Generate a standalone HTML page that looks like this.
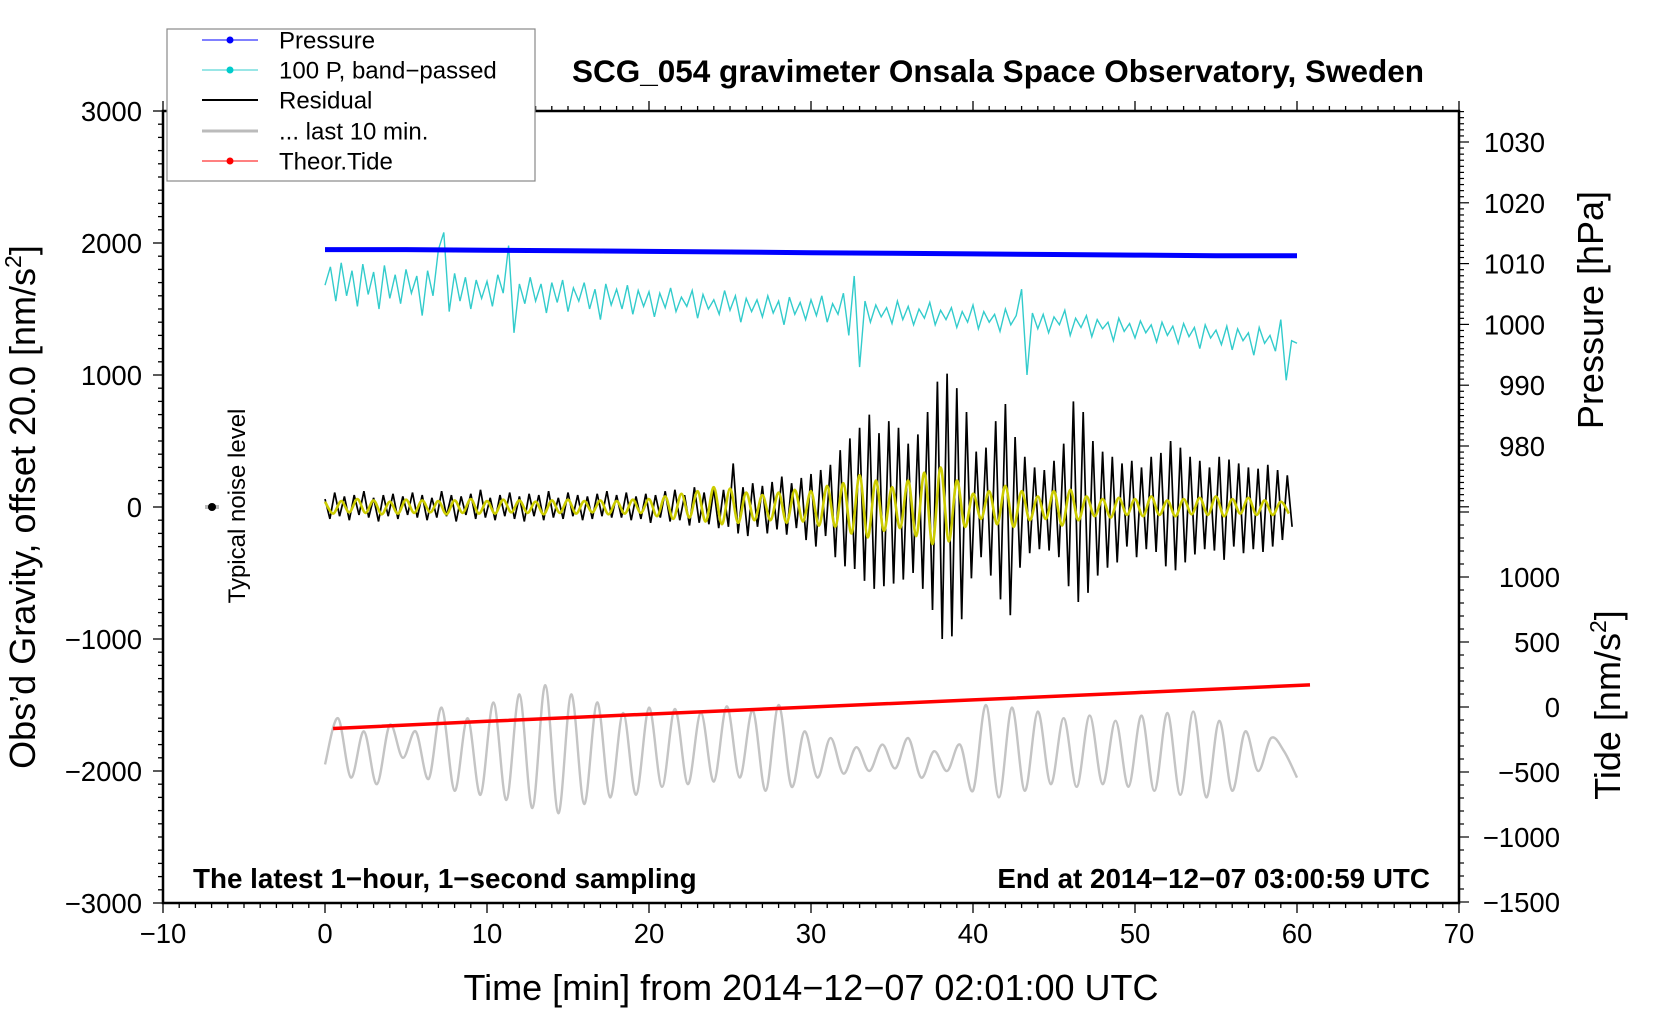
<!DOCTYPE html>
<html><head><meta charset="utf-8">
<style>
html,body{margin:0;padding:0;background:#fff;}
svg{display:block;font-family:"Liberation Sans",sans-serif;}
</style></head>
<body>
<svg id="chart" width="1660" height="1020" viewBox="0 0 1660 1020" xmlns="http://www.w3.org/2000/svg">
<rect x="0" y="0" width="1660" height="1020" fill="#fff"/>
<g id="marks"></g>
<g id="axes"></g>
<text x="998" y="82" font-size="31.5" font-weight="bold" text-anchor="middle">SCG_054 gravimeter Onsala Space Observatory, Sweden</text>
<text x="193" y="888" font-size="27.8" font-weight="bold">The latest 1−hour, 1−second sampling</text>
<text x="1430" y="888" font-size="27.8" font-weight="bold" text-anchor="end">End at 2014−12−07 03:00:59 UTC</text>
<text transform="translate(245,506) rotate(-90)" font-size="24" text-anchor="middle">Typical noise level</text>
<text x="811" y="1000" font-size="36" text-anchor="middle">Time [min] from 2014−12−07 02:01:00 UTC</text>
<text transform="translate(35,507) rotate(-90)" font-size="36" text-anchor="middle">Obs’d Gravity, offset 20.0 [nm/s<tspan font-size="23" dy="-14">2</tspan><tspan dy="14">]</tspan></text>
<text transform="translate(1603,310) rotate(-90)" font-size="36" text-anchor="middle">Pressure [hPa]</text>
<text transform="translate(1620,705) rotate(-90)" font-size="36" text-anchor="middle">Tide [nm/s<tspan font-size="23" dy="-14">2</tspan><tspan dy="14">]</tspan></text>
<g>
<rect x="167" y="29" width="368" height="152" fill="#fff" stroke="#888" stroke-width="1.2"/>
<g><line x1="202" y1="40" x2="258" y2="40" stroke="#0000ff" stroke-width="1"/><circle cx="230" cy="40" r="3.5" fill="#0000ff"/><text x="279" y="48.5" font-size="24">Pressure</text></g>
<g><line x1="202" y1="70" x2="258" y2="70" stroke="#33cccc" stroke-width="1"/><circle cx="230" cy="70" r="3.5" fill="#00cccc"/><text x="279" y="78.5" font-size="24">100 P, band−passed</text></g>
<g><line x1="202" y1="100" x2="258" y2="100" stroke="#000" stroke-width="2"/><text x="279" y="108.5" font-size="24">Residual</text></g>
<g><line x1="202" y1="131" x2="258" y2="131" stroke="#bbb" stroke-width="3"/><text x="279" y="139.5" font-size="24">... last 10 min.</text></g>
<g><line x1="202" y1="161" x2="258" y2="161" stroke="#ff0000" stroke-width="1"/><circle cx="230" cy="161" r="3.5" fill="#ff0000"/><text x="279" y="169.5" font-size="24">Theor.Tide</text></g>
</g>
</svg>
<script>
// ---- data ----
const pressureTimes = [0,5,10,15,20,25,30,35,40,45,50,55,60];
const pressureHPa = [1012.3,1012.3,1012.2,1012.1,1012.0,1011.9,1011.8,1011.7,1011.6,1011.5,1011.4,1011.3,1011.3];
const tideTimes = [0.5,10,20,30,40,50,60.8];
const tideValues = [-165,-110,-55,0,55,110,170];
const cyanStep = 1/3;
const cyanValues = [1680,1820,1560,1850,1600,1790,1520,1840,1610,1780,
1500,1830,1580,1760,1540,1800,1620,1750,1450,1790,
1600,1950,2080,1480,1770,1560,1740,1500,1720,1580,
1710,1520,1760,1620,1980,1320,1690,1540,1740,1560,
1690,1470,1700,1550,1720,1480,1660,1560,1700,1500,
1650,1420,1690,1530,1650,1500,1680,1460,1640,1520,
1630,1440,1620,1510,1660,1480,1590,1520,1640,1430,
1610,1500,1570,1460,1640,1490,1600,1400,1580,1480,
1570,1440,1600,1470,1560,1380,1590,1460,1550,1420,
1570,1450,1600,1400,1540,1460,1620,1300,1750,1060,
1560,1400,1530,1440,1510,1390,1560,1420,1520,1380,
1500,1430,1550,1380,1490,1420,1510,1360,1480,1400,
1530,1350,1480,1400,1460,1330,1500,1380,1450,1650,
1000,1470,1350,1460,1320,1440,1380,1490,1300,1430,
1360,1450,1290,1420,1350,1400,1260,1430,1330,1390,
1280,1410,1320,1380,1250,1400,1300,1370,1240,1390,
1290,1360,1200,1380,1280,1340,1230,1370,1190,1350,
1260,1320,1150,1360,1240,1300,1180,1420,960,1260,1240];
const residualStep = 0.3;
const residualValues = [60,-90,110,-70,80,-100,90,-60,120,-80,70,-110,90,-70,100,-90,80,-60,110,-80,
90,-100,70,-80,120,-70,90,-110,80,-60,100,-90,130,-80,70,-100,90,-70,110,-90,
80,-110,100,-70,90,-100,120,-80,70,-90,110,-70,90,-100,80,-90,100,-70,120,-80,
90,-80,110,-100,80,-90,100,-120,90,-80,120,-110,130,-100,90,-140,150,-120,110,-130,
140,-160,130,-150,330,-200,150,-220,180,-150,160,-200,190,-170,230,-210,180,-160,220,-250,
250,-300,280,-220,320,-380,430,-450,520,-470,600,-560,700,-620,560,-600,650,-580,600,-550,
480,-500,550,-620,720,-780,950,-1000,1010,-980,900,-850,720,-540,420,-380,450,-520,650,-700,
780,-820,530,-460,380,-350,300,-320,280,-330,350,-380,480,-600,800,-720,720,-650,500,-520,
420,-460,380,-420,330,-300,350,-380,300,-320,380,-340,410,-450,500,-480,450,-420,380,-360,
350,-320,300,-330,380,-400,360,-300,330,-350,300,-320,290,-340,320,-300,280,-250,240,-150];
const yellowStep = 0.5;
const yellowValues = [40,-50,45,-40,60,-45,50,-55,40,-50,55,-45,50,-40,45,-55,50,-45,60,-50,
45,-50,55,-40,50,-45,40,-55,50,-45,55,-50,45,-40,50,-55,45,-50,55,-45,
60,-70,80,-90,100,-80,120,-110,150,-130,140,-120,110,-100,90,-100,110,-120,130,-110,
120,-140,160,-150,180,-200,240,-230,200,-180,150,-160,200,-220,260,-280,300,-260,200,-150,
100,-90,120,-130,160,-150,120,-100,80,-90,120,-140,130,-100,80,-70,60,-80,70,-60,
60,-70,80,-60,50,-70,60,-55,70,-60,80,-70,60,-50,70,-60,50,-60,40,-50];
const grayStep = 0.8;
const grayValues = [-1950,-1600,-2050,-1700,-2100,-1650,-1900,-1700,-2060,-1520,-2150,-1600,-2180,-1480,-2220,-1420,-2280,-1350,-2320,-1420,
-2250,-1480,-2200,-1560,-2180,-1520,-2120,-1530,-2100,-1560,-2080,-1510,-2050,-1540,-2150,-1500,-2120,-1700,-2050,-1750,
-2020,-1820,-2000,-1800,-1980,-1750,-2050,-1850,-2000,-1800,-2150,-1500,-2200,-1520,-2150,-1550,-2100,-1600,-2120,-1580,
-2100,-1620,-2120,-1580,-2150,-1560,-2180,-1550,-2200,-1620,-2150,-1700,-2000,-1750,-1850,-2050];
const xTickLabels = ["−10","0","10","20","30","40","50","60","70"];
const yTickLabels = ["−3000","−2000","−1000","0","1000","2000","3000"];
const pressureTickLabels = ["980","990","1000","1010","1020","1030"];
const tideTickLabels = ["−1500","−1000","−500","0","500","1000"];

// ---- scales ----
const X0=163, X1=1459, Y0=111, Y1=903;
const xs = t => 325 + (t)*(X1-325)/70;
const yg = v => Y0 + (3000 - v)*(Y1-Y0)/6000;
const yp = p => 142 + (1030 - p)*6.08;
const yt = v => 707 - v*0.13;

const NS="http://www.w3.org/2000/svg";
const marks=document.getElementById('marks'), axes=document.getElementById('axes');
function mk(tag, attrs, parent){const e=document.createElementNS(NS,tag);for(const k in attrs)e.setAttribute(k,attrs[k]);parent.appendChild(e);return e;}
function pathFrom(pts){return pts.map((p,i)=>(i?'L':'M')+p[0].toFixed(1)+' '+p[1].toFixed(1)).join('');}
function smoothPath(pts){
  let d='M'+pts[0][0].toFixed(1)+' '+pts[0][1].toFixed(1);
  for(let i=0;i<pts.length-1;i++){
    const p0=pts[Math.max(0,i-1)],p1=pts[i],p2=pts[i+1],p3=pts[Math.min(pts.length-1,i+2)];
    const c1=[p1[0]+(p2[0]-p0[0])/6,p1[1]+(p2[1]-p0[1])/6];
    const c2=[p2[0]-(p3[0]-p1[0])/6,p2[1]-(p3[1]-p1[1])/6];
    d+='C'+c1[0].toFixed(1)+' '+c1[1].toFixed(1)+' '+c2[0].toFixed(1)+' '+c2[1].toFixed(1)+' '+p2[0].toFixed(1)+' '+p2[1].toFixed(1);
  }
  return d;
}

// cyan
let p = mk('path',{d:pathFrom(cyanValues.map((v,i)=>[xs(i*cyanStep),yg(v)])),fill:'none',stroke:'#33cccc','stroke-width':1.4},marks);


// pressure
p = mk('path',{d:pathFrom(pressureHPa.map((v,i)=>[xs(pressureTimes[i]),yp(v)])),fill:'none',stroke:'#0000ff','stroke-width':5},marks);


// residual
p = mk('path',{d:pathFrom(residualValues.map((v,i)=>[xs(i*residualStep),yg(v)])),fill:'none',stroke:'#000','stroke-width':1.7},marks);


// yellow
p = mk('path',{d:smoothPath(yellowValues.map((v,i)=>[xs(i*yellowStep),yg(v)])),fill:'none',stroke:'#cccc00','stroke-width':2.6},marks);


// gray last 10 min
p = mk('path',{d:smoothPath(grayValues.map((v,i)=>[xs(i*grayStep),yg(v)])),fill:'none',stroke:'#c4c4c4','stroke-width':2.4,'stroke-linejoin':'round'},marks);


// tide
p = mk('path',{d:pathFrom(tideValues.map((v,i)=>[xs(tideTimes[i]),yt(v)])),fill:'none',stroke:'#ff0000','stroke-width':3.5},marks);


// noise marker
mk('line',{x1:205,y1:507,x2:219,y2:507,stroke:'#bbb','stroke-width':4},marks);
p = mk('circle',{cx:212,cy:507,r:4,fill:'#000'},marks);



// ---- axes ----
const fr = mk('rect',{x:X0,y:Y0,width:X1-X0,height:Y1-Y0,fill:'none',stroke:'#000','stroke-width':2.5},axes);


for(let t=-10;t<=70;t++){
  const x=xs(t), L=(t%10===0)?10:5;
  mk('line',{x1:x,y1:Y1,x2:x,y2:Y1+L,stroke:'#000','stroke-width':1.3},axes);
  mk('line',{x1:x,y1:Y0,x2:x,y2:Y0-L,stroke:'#000','stroke-width':1.3},axes);
}
xTickLabels.forEach((s,i)=>{const e=mk('text',{x:xs(-10+i*10),y:943,'font-size':27.5,'text-anchor':'middle'},axes);e.textContent=s;

});
for(let v=-3000;v<=3000;v+=100){
  const y=yg(v), L=(v%1000===0)?10:5;
  mk('line',{x1:X0,y1:y,x2:X0-L,y2:y,stroke:'#000','stroke-width':1.3},axes);
}
yTickLabels.forEach((s,i)=>{const e=mk('text',{x:142,y:yg(-3000+i*1000)+10,'font-size':27.5,'text-anchor':'end'},axes);e.textContent=s;

});
for(let q=970;q<=1035;q++){
  const y=yp(q); if(y<Y0) continue; const L=(q%10===0)?10:5;
  mk('line',{x1:X1,y1:y,x2:X1+L,y2:y,stroke:'#000','stroke-width':1.2},axes);
}
pressureTickLabels.forEach((s,i)=>{const e=mk('text',{x:1545,y:yp(980+i*10)+10,'font-size':27.5,'text-anchor':'end'},axes);e.textContent=s;

});
for(let v=-1500;v<=1500;v+=100){
  const y=yt(v), L=(v%500===0)?10:5;
  mk('line',{x1:X1,y1:y,x2:X1+L,y2:y,stroke:'#000','stroke-width':1.2},axes);
}
tideTickLabels.forEach((s,i)=>{const e=mk('text',{x:1560,y:yt(-1500+i*500)+10,'font-size':27.5,'text-anchor':'end'},axes);e.textContent=s;

});
</script>
</body></html>
